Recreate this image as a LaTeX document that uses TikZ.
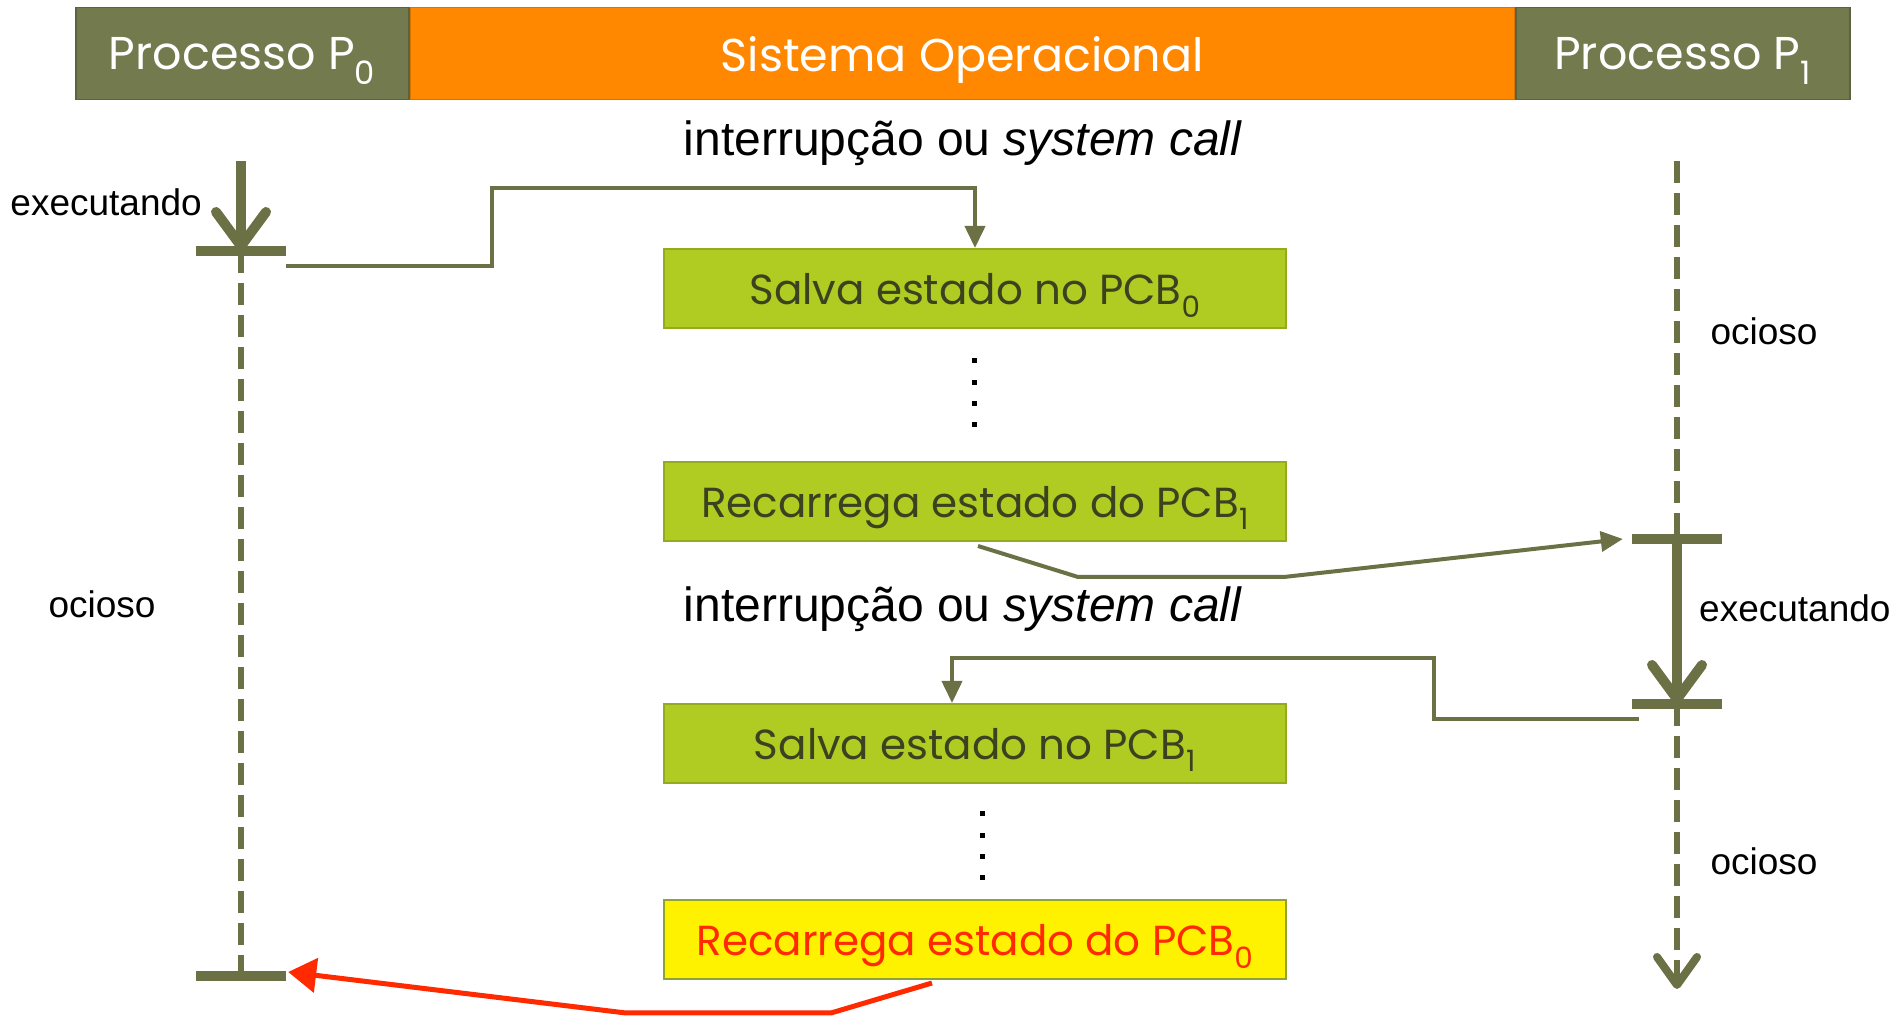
\documentclass[tikz,border=0pt]{standalone}
\usepackage{fontspec}
\usepackage{tikz}
\usetikzlibrary{positioning, arrows.meta, calc}

\newfontfamily\arial{Liberation Sans}
\newfontfamily\gothic{Poppins}

\definecolor{procgreen}{HTML}{737A4D}
\definecolor{linegreen}{HTML}{6B7145}
\definecolor{sysorange}{HTML}{FF8800}
\definecolor{taskgreen}{HTML}{B0CB22}
\definecolor{taskedge}{HTML}{93AC1D}
\definecolor{tasktext}{HTML}{3B4220}
\definecolor{backred}{HTML}{FF2A00}

\begin{document}
\begin{tikzpicture}[
  x=1pt, y=1pt,
  proc/.style ={draw=procgreen!80!black, line width=1.5pt, fill=procgreen, text=white, inner sep=0pt, text depth=0pt, minimum height=92pt, font=\gothic\fontsize{46}{54}\selectfont},
  sys/.style  ={draw=sysorange!85!black, line width=1.5pt, fill=sysorange, text=white, inner sep=0pt, text depth=0pt, minimum height=92pt, minimum width=1104pt, font=\gothic\fontsize{46}{54}\selectfont},
  task/.style ={draw=taskedge, line width=2pt, fill=taskgreen, text=tasktext, inner sep=0pt, text depth=0pt, minimum width=622pt, minimum height=79pt, font=\gothic\fontsize{42}{50}\selectfont},
  back/.style ={task, fill=yellow, draw=taskedge!80!gray, text=backred},
  call/.style ={font=\arial\fontsize{48}{58}\selectfont, inner sep=0pt},
  lbl/.style  ={font=\arial\fontsize{37}{44}\selectfont, inner sep=0pt},
  tee/.style  ={fill=linegreen, inner sep=0pt, minimum width=90pt, minimum height=10pt},
  run/.style  ={line width=10pt, draw=linegreen, -{Straight Barb[length=34pt, width=50pt, line width=10pt, round]}},
  idle/.style ={line width=6pt, draw=linegreen, dash pattern=on 22pt off 10pt},
  link/.style ={line width=4pt, draw=linegreen, -{Triangle[length=22pt, width=20pt]}},
  reload/.style={line width=5pt, draw=backred, -{Triangle[length=28pt, width=34pt]}},
]
\useasboundingbox (0,0) rectangle (1899,1019);

% ---------- header ----------
\node[proc, minimum width=333pt, anchor=north west] (p0) at (75,1012) {Processo P\textsubscript{0}};
\node[sys, right=0pt of p0] (so) {Sistema Operacional};
\node[proc, minimum width=334pt, right=0pt of so] (p1) {Processo P\textsubscript{1}};

% ---------- kernel steps ----------
\node[task] (save0) at (975,730.5) {Salva estado no PCB\textsubscript{0}};
\node[task, below=132pt of save0] (load1) {Recarrega estado do PCB\textsubscript{1}};
\node[task, below=161pt of load1] (save1) {Salva estado no PCB\textsubscript{1}};
\node[back, below=115pt of save1] (load0) {Recarrega estado do PCB\textsubscript{0}};

\node[call] (irq0) at (963,876) {interrupção ou \textit{system call}};
\node[call] (irq1) at (963,410) {interrupção ou \textit{system call}};

\foreach \k in {0,...,3} {
  \fill (971.5,660.5-21.3*\k) rectangle ++(5,-5);
  \fill (979.5,207.5-21.3*\k) rectangle ++(5,-5);
}

% ---------- process P0 ----------
\node[tee] (t0)  at (241,768) {};
\node[tee] (t0e) at (241,43) {};
\coordinate (p0top) at (241,858);
\draw[run]  (p0top) -- (t0.center);
\draw[idle] (t0.center) -- (t0e.center);
\node[lbl, anchor=east] (run0) at (202,817) {executando};
\node[lbl] (idle0) at (102,415) {ocioso};

% ---------- process P1 ----------
\node[tee] (t1)  at (1677,480) {};
\node[tee] (t1e) at (1677,315) {};
\coordinate (p1top) at (1677,858);
\coordinate (p1end) at (1677,30);
\draw[idle] (p1top) -- (t1.center);
\draw[run]  (t1.center) -- (t1e.center);
\draw[idle, -{Straight Barb[length=28pt, width=40pt, line width=8pt, round]}] (t1e.center) -- (p1end);
\node[lbl] (idle1) at (1764,688) {ocioso};
\node[lbl, anchor=west] (run1) at (1699,411) {executando};
\node[lbl] (idle2) at (1764,158) {ocioso};

% ---------- switches ----------
\draw[link] ([yshift=-15pt]t0.east) -| (492,831) -| (save0.north);
\draw[link] ([xshift=3pt,yshift=-4pt]load1.south) -- ++(100,-31) -- ++(206,0) -- ([xshift=-9pt]t1.west);
\draw[link] ([xshift=7pt,yshift=-15pt]t1e.west) -| (1434,361) -| ([xshift=-23pt]save1.north);
\draw[reload] ([xshift=-43pt,yshift=-3pt]load0.south) -- ++(-101,-30) -- ++(-205,0) -- ([xshift=2pt,yshift=4pt]t0e.east);

\end{tikzpicture}
\end{document}
